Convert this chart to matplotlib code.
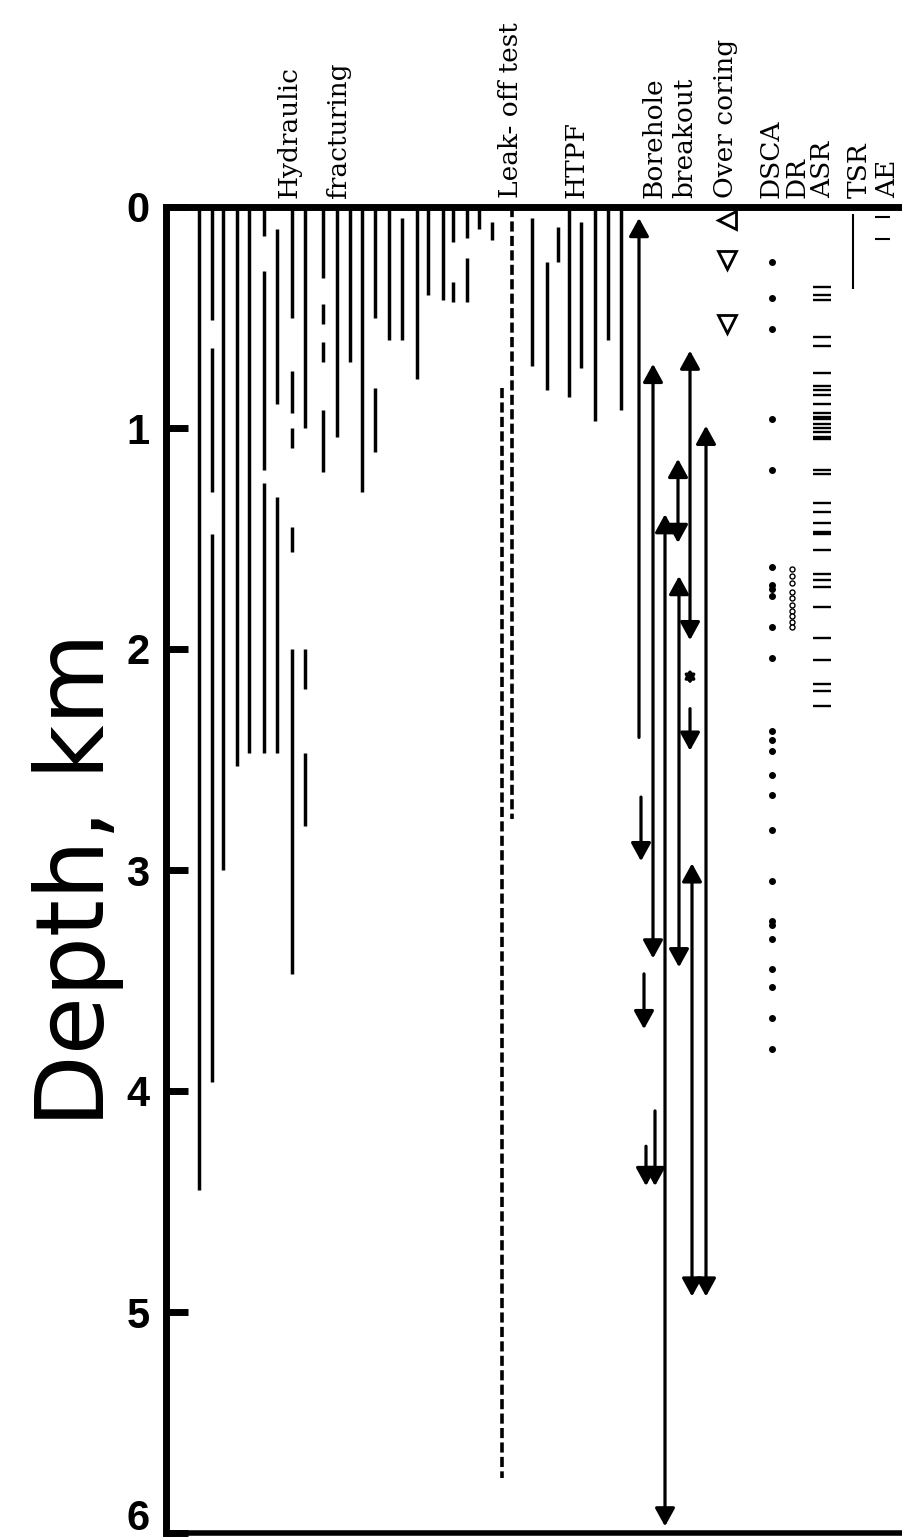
import matplotlib
matplotlib.use("Agg")
import matplotlib.pyplot as plt
import matplotlib.transforms as mtransforms

W, H = 902, 1538

depth_ticks = [0, 1, 2, 3, 4, 5, 6]

# Hydraulic fracturing: column position -> measured depth intervals (km)
hf_x = [199, 212, 223, 237, 249, 264, 277, 292, 305, 323, 337, 350,
        362, 375, 389, 402, 417, 428, 443, 453, 467, 479, 492]
hf_spans = [
    [(0, 4.45)],
    [(0, 0.51), (0.64, 1.29), (1.48, 3.96)],
    [(0, 3.0)],
    [(0, 2.53)],
    [(0, 2.47)],
    [(0, 0.13), (0.29, 1.19), (1.25, 2.47)],
    [(0.10, 0.89), (1.31, 2.47)],
    [(0, 0.50), (0.74, 0.93), (1.0, 1.09), (1.45, 1.56), (2.0, 3.47)],
    [(0, 1.0), (2.0, 2.18), (2.47, 2.80)],
    [(0, 0.32), (0.44, 0.53), (0.61, 0.70), (0.92, 1.20)],
    [(0, 1.04)],
    [(0, 0.70)],
    [(0, 1.29)],
    [(0, 0.50), (0.82, 1.11)],
    [(0, 0.60)],
    [(0.05, 0.60)],
    [(0, 0.78)],
    [(0, 0.40)],
    [(0, 0.42)],
    [(0, 0.16), (0.34, 0.43)],
    [(0, 0.14), (0.23, 0.43)],
    [(0, 0.10)],
    [(0.07, 0.15)],
]

# Leak-off test (dashed)
lot_x = [512, 502]
lot_top = [0, 0.82]
lot_bot = [2.77, 5.75]

# HTPF
htpf_x = [532, 547, 558, 569, 581, 595, 608, 621]
htpf_top = [0.05, 0.25, 0.09, 0, 0.07, 0, 0, 0]
htpf_bot = [0.72, 0.83, 0.25, 0.86, 0.73, 0.97, 0.60, 0.92]

# Borehole breakout arrows
bb_x = [639, 641, 653, 644, 646, 655, 665, 678, 679, 690, 690, 690, 692, 706]
bb_top = [0.05, 2.67, 0.71, 3.47, 4.25, 4.09, 1.39, 1.14, 1.67, 0.65, 2.09, 2.27, 2.97, 0.99]
bb_bot = [2.40, 2.96, 3.40, 3.72, 4.43, 4.43, 5.97, 1.52, 3.44, 1.96, 2.16, 2.46, 4.93, 4.93]
bb_head = ['up', 'down', 'both', 'down', 'down', 'down', 'both', 'both', 'both',
           'both', 'tiny', 'down', 'both', 'both']

# Over coring
oc_x = [727, 727, 727]
oc_depth = [0.06, 0.24, 0.53]
oc_marker = ['<', 'v', 'v']

# DSCA
dsca_depth = [0.25, 0.41, 0.55, 0.96, 1.19, 1.63, 1.71, 1.73, 1.76, 1.90, 2.04,
              2.37, 2.41, 2.46, 2.57, 2.66, 2.82, 3.05, 3.23, 3.25, 3.31, 3.45,
              3.53, 3.67, 3.81]

# DR
dr_depth = [1.64, 1.67, 1.70, 1.74, 1.77, 1.80, 1.83, 1.85, 1.88, 1.90]

# ASR
asr_depth = [0.36, 0.40, 0.42, 0.59, 0.63, 0.75, 0.81, 0.83, 0.85, 0.89,
             0.93, 0.95, 0.96, 0.98, 1.00, 1.02, 1.04, 1.05, 1.19, 1.21,
             1.34, 1.38, 1.43, 1.47, 1.48, 1.55, 1.66, 1.69, 1.72, 1.81,
             1.95, 2.05, 2.16, 2.19, 2.26]

# TSR and AE
tsr_top, tsr_bot = 0.03, 0.37
ae_depth = [0.045, 0.145]

method_labels = ["Hydraulic", "fracturing", "Leak- off test", "HTPF", "Borehole",
                 "breakout", "Over coring", "DSCA", "DR", "ASR", "TSR", "AE"]
label_x = [289, 338, 510, 576, 654, 685, 726, 771, 797, 823, 859, 888]

fig = plt.figure(figsize=(W / 100, H / 100), dpi=100)
ax = fig.add_axes([166 / W, 1 - 1533 / H, (W - 166) / W, (1533 - 207) / H])
ax.set_xlim(166, 902)
ax.set_ylim(6, 0)

for x, spans in zip(hf_x, hf_spans):
    for top, bot in spans:
        ax.vlines(x, top, bot, color='k', lw=2.5)

for x, top, bot in zip(lot_x, lot_top, lot_bot):
    ax.vlines(x, top, bot, color='k', lw=2.6, linestyles=(0, (2.8, 1.2)))

ax.vlines(htpf_x, htpf_top, htpf_bot, color='k', lw=2.5)

styles = {'up': '<|-', 'down': '-|>', 'both': '<|-|>', 'tiny': '<|-|>'}
for x, top, bot, hd in zip(bb_x, bb_top, bb_bot, bb_head):
    if hd == 'tiny':
        ms = 5
    else:
        ms = 11
    ax.annotate('', xy=(x, bot), xytext=(x, top),
                arrowprops=dict(arrowstyle=styles[hd] + ',head_length=1.0,head_width=0.55',
                                mutation_scale=ms, lw=2.3, color='k',
                                shrinkA=0, shrinkB=0))

for x, d, m in zip(oc_x, oc_depth, oc_marker):
    ax.plot(x, d, marker=m, ms=13, mfc='white', mec='k', mew=2, ls='none', clip_on=False)

ax.plot([772] * len(dsca_depth), dsca_depth, 'o', color='k', ms=4)
ax.plot([792] * len(dr_depth), dr_depth, 'o', mfc='white', mec='k', ms=3.6, mew=1)
ax.hlines(asr_depth, 813, 831, color='k', lw=1.7)
ax.vlines(853, tsr_top, tsr_bot, color='k', lw=1.5)
ax.hlines(ae_depth, 875, 890, color='k', lw=1.5)

trans = mtransforms.blended_transform_factory(ax.transData, ax.transAxes)
for lab, x in zip(method_labels, label_x):
    ax.text(x, 1.007, lab, transform=trans, rotation=90, ha='center', va='bottom',
            fontsize=19, family='DejaVu Serif', clip_on=False)

ax.spines['right'].set_visible(False)
ax.spines['left'].set_linewidth(5)
ax.spines['top'].set_linewidth(5)
ax.spines['bottom'].set_linewidth(4)
for side in ['left', 'top', 'bottom']:
    ax.spines[side].set_capstyle('projecting')

ax.set_xticks([])
ax.set_yticks(depth_ticks)
ax.tick_params(axis='y', direction='in', length=16, width=5, pad=12)
labels = ax.get_yticklabels()
for t in labels:
    t.set_fontsize(30)
    t.set_fontweight('bold')
    t.set_family('Liberation Sans')
# the bottom label sits a little above its tick in the original
labels[-1].set_transform(labels[-1].get_transform() +
                         mtransforms.ScaledTranslation(0, 18 / 100, fig.dpi_scale_trans))

fig.text(78 / W, 1 - 880 / H, 'Depth, km', rotation=90, ha='center', va='center',
         fontsize=68, family='DejaVu Sans')

fig.savefig('out.png', dpi=100)
